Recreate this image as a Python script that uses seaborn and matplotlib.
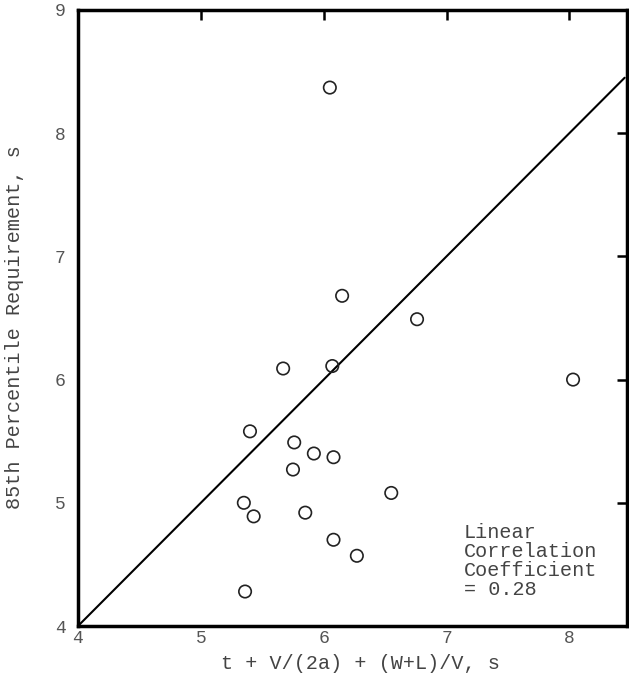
import matplotlib
matplotlib.use("Agg")
import matplotlib.pyplot as plt
import seaborn as sns
import pandas as pd

# Data
x_vals = [6.05, 6.15, 6.76, 5.67, 6.07, 8.03, 5.40, 5.76, 5.75, 5.92, 6.08, 6.55,
          5.35, 5.43, 5.85, 6.08, 6.27, 5.36]
y_vals = [8.37, 6.68, 6.49, 6.09, 6.11, 6.00, 5.58, 5.49, 5.27, 5.40, 5.37, 5.08,
          5.00, 4.89, 4.92, 4.70, 4.57, 4.28]
line_x = [4.0, 8.45]
line_y = [4.0, 8.45]
x_ticks = [4, 5, 6, 7, 8]
y_ticks = [4, 5, 6, 7, 8, 9]
annotation = "Linear\nCorrelation\nCoefficient\n= 0.28"
x_label = "t + V/(2a) + (W+L)/V, s"
y_label = "85th Percentile Requirement, s"

sns.set_style("white")
plt.rcParams["font.family"] = ["Liberation Mono", "DejaVu Sans Mono"]

fig = plt.figure(figsize=(6.29, 6.77), dpi=100)
ax = fig.add_axes([0.124, 0.0753, 0.873, 0.910])

df = pd.DataFrame({"x": x_vals, "y": y_vals})
ldf = pd.DataFrame({"x": line_x, "y": line_y})

sns.lineplot(data=ldf, x="x", y="y", ax=ax, color="black", linewidth=1.5)
sns.scatterplot(data=df, x="x", y="y", ax=ax, marker="o", s=80,
                facecolor="none", edgecolor="#222222", linewidth=1.2, zorder=3)

ax.set_xlim(4, 8.47)
ax.set_ylim(4, 9)
ax.set_xticks(x_ticks)
ax.set_yticks(y_ticks)
ax.set_xticklabels([str(t) for t in x_ticks])
ax.set_yticklabels([str(t) for t in y_ticks])

for s in ax.spines.values():
    s.set_visible(True)
    s.set_color("black")
    s.set_linewidth(2.5)

ax.tick_params(axis="both", direction="in", length=7, width=1.8, color="black",
               labelsize=13, labelcolor="#555555", top=True, right=True,
               labeltop=False, labelright=False)
ax.tick_params(axis="y", pad=9)
ax.tick_params(axis="x", pad=3)

ax.set_xlabel(x_label, fontsize=14.5, color="#444444")
ax.set_ylabel(y_label, fontsize=14.5, color="#444444")
ax.xaxis.set_label_coords(0.515, -0.046)
ax.yaxis.set_label_coords(-0.098, 0.485)

ax.text(7.14, 4.84, annotation, fontsize=14.5, color="#444444",
        va="top", ha="left", linespacing=1.02)

fig.savefig("out.png", dpi=100)
